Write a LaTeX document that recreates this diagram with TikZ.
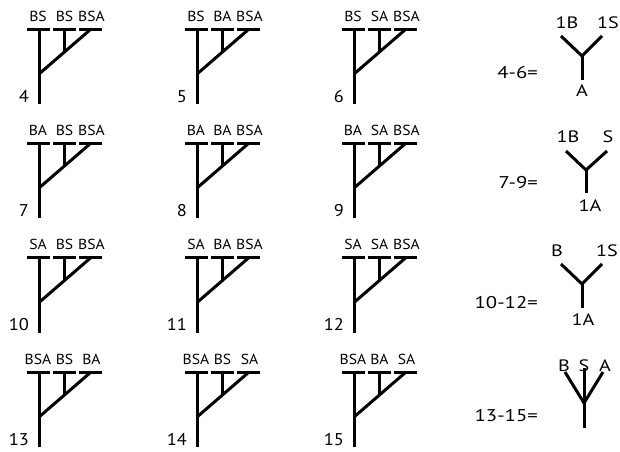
\documentclass[tikz,border=0pt]{standalone}
\usepackage{fontspec}
\setmainfont{PT Sans}
\newfontfamily\labfont[FakeStretch=1.08]{PT Sans}
\newfontfamily\exfont[FakeStretch=1.22]{PT Sans}
\tikzset{
  br/.style={line width=3pt, black},
  lab/.style={font=\labfont\fontsize{14.5}{16}\selectfont, inner sep=0pt},
  ylab/.style={font=\exfont\fontsize{16.5}{18}\selectfont, inner sep=0pt},
  num/.style={font=\labfont\fontsize{17}{19}\selectfont, inner sep=0pt},
  ex/.style={font=\exfont\fontsize{17}{19}\selectfont, inner sep=0pt},
}
\newcommand{\mytree}[6]{%
  \begin{scope}[shift={(#1,#2)}]
    \draw[br] (-12,0) -- (11,0);
    \draw[br] (14,0) -- (37,0);
    \draw[br] (40,0) -- (63,0);
    \draw[br] (0,0) -- (0,75);
    \draw[br] (25.5,0) -- (25.5,23.5);
    \draw[br] (0,45) -- (52,0);
    \node[lab, anchor=base] (t#3a) at (-1,-8) {#4};
    \node[lab, anchor=base] (t#3b) at (25.5,-8) {#5};
    \node[lab, anchor=base] (t#3c) at (52.5,-8) {#6};
    \node[num, anchor=base east] (t#3n) at (-10,73) {#3};
  \end{scope}
}
\begin{document}
\begin{tikzpicture}[x=1pt,y=-1pt]
\useasboundingbox (0,0) rectangle (620,451);
\mytree{39}{29}{4}{BS}{BS}{BSA}
\mytree{197}{29}{5}{BS}{BA}{BSA}
\mytree{354}{29}{6}{BS}{SA}{BSA}
\mytree{39}{143}{7}{BA}{BS}{BSA}
\mytree{197}{143}{8}{BA}{BA}{BSA}
\mytree{354}{143}{9}{BA}{SA}{BSA}
\mytree{39}{257.5}{10}{SA}{BS}{BSA}
\mytree{197}{257.5}{11}{SA}{BA}{BSA}
\mytree{354}{257.5}{12}{SA}{SA}{BSA}
\mytree{39}{372}{13}{BSA}{BS}{BA}
\mytree{197}{372}{14}{BSA}{BS}{SA}
\mytree{354}{372}{15}{BSA}{BA}{SA}
% 4-6
\node[ex, anchor=base east] (e1) at (538,78) {4-6=};
\coordinate (j1) at (582,56);
\draw[br] (561,36) -- (j1) -- (602,36);
\draw[br] (j1) -- (582,80);
\node[ylab] (e1a) at (567,23) {1B};
\node[ylab] (e1b) at (608,23) {1S};
\node[ylab] (e1c) at (582,91) {A};
% 7-9
\node[ex, anchor=base east] (e2) at (538,188) {7-9=};
\coordinate (j2) at (586,170);
\draw[br] (566,151) -- (j2) -- (607,151);
\draw[br] (j2) -- (586,193);
\node[ylab] (e2a) at (568,137) {1B};
\node[ylab] (e2b) at (608,137) {S};
\node[ylab] (e2c) at (590,206) {1A};
% 10-12
\node[ex, anchor=base east] (e3) at (538,308) {10-12=};
\coordinate (j3) at (582,284);
\draw[br] (561,264) -- (j3) -- (602,264);
\draw[br] (j3) -- (582,308);
\node[ylab] (e3a) at (557,251) {B};
\node[ylab] (e3b) at (607,251) {1S};
\node[ylab] (e3c) at (583,320) {1A};
% 13-15
\node[ex, anchor=base east] (e4) at (538,421) {13-15=};
\coordinate (j4) at (584,403);
\draw[br] (565,372) -- (j4) -- (603,372);
\draw[br] (584,368) -- (584,428);
\node[ylab] (e4a) at (564,366) {B};
\node[ylab] (e4b) at (584,366) {S};
\node[ylab] (e4c) at (605,366) {A};
\end{tikzpicture}
\end{document}
